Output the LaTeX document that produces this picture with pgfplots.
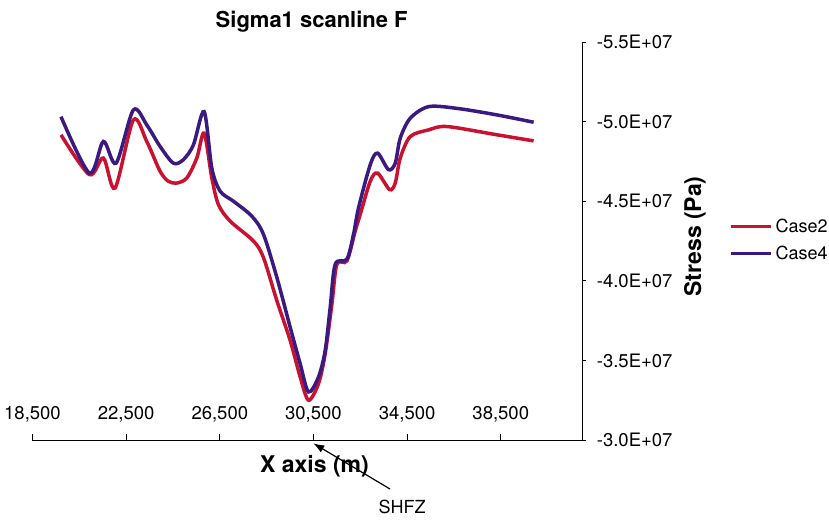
\documentclass[border=0pt]{standalone}
\usepackage{fontspec}
\setmainfont{TeX Gyre Heros}
\usepackage{pgfplots}
\pgfplotsset{compat=1.18}
\usetikzlibrary{arrows.meta}
\definecolor{casered}{RGB}{200,18,48}
\definecolor{casepurple}{RGB}{58,26,128}
\begin{document}
\begin{tikzpicture}
\path[use as bounding box] (-32.5pt,-79pt) rectangle (796.5pt,440pt);
\begin{axis}[
  scale only axis, width=550.2pt, height=398pt,
  at={(0pt,0pt)}, anchor=south west,
  xmin=18500, xmax=42000,
  ymin=-5.5e7, ymax=-3.0e7,
  y dir=reverse,
  scaled ticks=false,
  axis x line*=bottom, axis y line*=right,
  axis line style={line width=1pt, black},
  clip=false,
  tick align=inside, major tick length=6pt,
  xtick style={line width=1pt, black},
  ytick style={draw=none},
  xtick={18500,22500,26500,30500,34500,38500},
  xticklabels={{18,500},{22,500},{26,500},{30,500},{34,500},{38,500}},
  ytick={-5.5e7,-5.0e7,-4.5e7,-4.0e7,-3.5e7,-3.0e7},
  yticklabels={-5.5E+07,-5.0E+07,-4.5E+07,-4.0E+07,-3.5E+07,-3.0E+07},
  xticklabel style={anchor=base, inner sep=0pt, yshift=20.7pt, font=\fontsize{18.5}{20}\selectfont},
  yticklabel style={anchor=west, inner sep=0pt, xshift=14pt, font=\fontsize{18.5}{20}\selectfont},
  legend style={at={(axis description cs:1.2659,0.5553)}, anchor=north west, draw=none, fill=none,
    inner sep=0pt, row sep=12pt, font=\fontsize{18}{20}\selectfont,
    nodes={inner sep=0pt},
    /tikz/every odd column/.append style={column sep=3pt}},
  legend cell align=left,
  legend image code/.code={\draw[#1] (0pt,0pt) -- (40pt,0pt);},
]
\addplot[casered, line width=3.5pt, smooth, tension=0.5] coordinates {
(19718,-4.917e7) (20928,-4.667e7) (21526,-4.771e7) (22026,-4.583e7) (22808,-5.010e7)
(23381,-4.875e7) (23949,-4.688e7) (24304,-4.625e7) (24663,-4.614e7) (25091,-4.646e7)
(25518,-4.771e7) (25830,-4.927e7) (26159,-4.646e7) (26441,-4.479e7) (26941,-4.375e7)
(27937,-4.250e7) (28364,-4.146e7) (28937,-3.875e7) (29506,-3.625e7) (29933,-3.396e7)
(30288,-3.250e7) (30715,-3.354e7) (31001,-3.542e7) (31288,-3.854e7) (31501,-4.104e7)
(31929,-4.125e7) (32284,-4.313e7) (32498,-4.417e7) (32925,-4.625e7) (33237,-4.677e7)
(33750,-4.573e7) (33993,-4.614e7) (34207,-4.771e7) (34634,-4.906e7) (35417,-4.948e7)
(36203,-4.969e7) (38340,-4.917e7) (39904,-4.879e7)
};
\addlegendentry{Case2}
\addplot[casepurple, line width=3.5pt, smooth, tension=0.5] coordinates {
(19718,-5.031e7) (20928,-4.677e7) (21526,-4.875e7) (22069,-4.739e7) (22808,-5.073e7)
(23381,-4.979e7) (23949,-4.844e7) (24518,-4.739e7) (24945,-4.761e7) (25373,-4.854e7)
(25830,-5.063e7) (26159,-4.708e7) (26514,-4.563e7) (27082,-4.500e7) (27869,-4.406e7)
(28364,-4.292e7) (28937,-4.021e7) (29506,-3.708e7) (29933,-3.479e7) (30288,-3.302e7)
(30715,-3.396e7) (31001,-3.563e7) (31215,-3.833e7) (31429,-4.104e7) (31929,-4.136e7)
(32211,-4.292e7) (32425,-4.458e7) (32925,-4.729e7) (33237,-4.802e7) (33707,-4.698e7)
(33993,-4.739e7) (34207,-4.896e7) (34634,-5.021e7) (35417,-5.094e7) (36630,-5.083e7)
(38340,-5.042e7) (39904,-4.996e7)
};
\addlegendentry{Case4}
\draw[line width=1pt] (axis cs:42000,-5.5e7) -- ++(3pt,0pt);
\draw[line width=1pt] (axis cs:42000,-5.0e7) -- ++(3pt,0pt);
\draw[line width=1pt] (axis cs:42000,-4.5e7) -- ++(3pt,0pt);
\draw[line width=1pt] (axis cs:42000,-4.0e7) -- ++(3pt,0pt);
\draw[line width=1pt] (axis cs:42000,-3.5e7) -- ++(3pt,0pt);
\draw[line width=1pt] (axis cs:42000,-3.0e7) -- ++(3pt,0pt);
\end{axis}
\node[anchor=base, inner sep=0pt, font=\fontsize{22}{24}\selectfont\bfseries] at (279.2pt,412pt) {Sigma1 scanline F};
\node[anchor=base, inner sep=0pt, font=\fontsize{23}{25}\selectfont\bfseries] at (282pt,-32pt) {X axis (m)};
\node[rotate=90, inner sep=0pt, font=\fontsize{23}{25}\selectfont\bfseries] at (662.5pt,203.5pt) {Stress (Pa)};
\draw[-{Latex[length=11pt,width=8pt]}, line width=1.2pt] (357.5pt,-49pt) -- (280.8pt,-3.3pt);
\node[inner sep=0pt, font=\fontsize{18}{20}\selectfont] at (369.5pt,-66.7pt) {SHFZ};
\end{tikzpicture}
\end{document}
